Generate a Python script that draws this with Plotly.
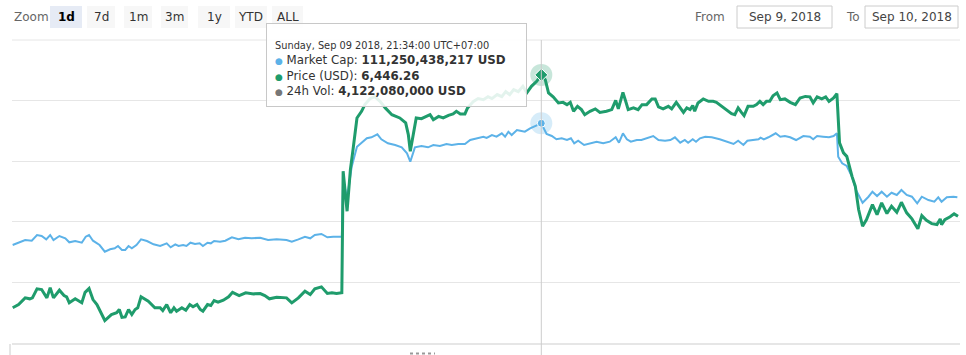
import pandas as pd
import plotly.graph_objects as go

# ---------------- data ----------------
base_time = "2018-09-09 08:10"   # UTC+07:00, start of the 1d window
window_minutes = 1440

price_min = [1, 10, 20, 27, 31, 38, 45, 53, 58, 63, 72, 79, 83, 87, 96, 106, 111, 117, 123, 129,
             141, 151, 159, 163, 167, 172, 177, 182, 187, 191, 196, 202, 207, 217, 225, 229, 235, 241, 246, 250,
             258, 264, 270, 275, 281, 286, 290, 297, 302, 307, 313, 321, 329, 335, 345, 355, 367, 377, 384, 391,
             402, 417, 425, 435, 445, 453, 460, 470, 479, 486, 493, 501, 503, 509, 514, 518, 524, 531, 536, 544,
             551, 559, 567, 577, 589, 598, 602, 605, 609, 614, 622, 630, 635, 640, 648, 655, 663, 670, 675, 681,
             688, 692, 701, 708, 716, 723, 729, 737, 744, 750, 756, 762, 769, 776, 782, 789, 797, 804, 810, 815,
             822, 830, 837, 843, 848, 853, 859, 865, 870, 878, 886, 893, 903, 911, 917, 921, 928, 933, 936, 944,
             951, 957, 964, 972, 977, 982, 989, 997, 1002, 1009, 1015, 1020, 1025, 1030, 1034, 1037, 1042, 1050, 1058, 1065,
             1070, 1078, 1086, 1093, 1098, 1103, 1108, 1112, 1118, 1126, 1131, 1136, 1141, 1146, 1151, 1156, 1162, 1167, 1174, 1182,
             1190, 1197, 1205, 1212, 1217, 1223, 1230, 1236, 1241, 1248, 1253, 1257, 1263, 1268, 1276, 1281, 1286, 1292, 1298, 1307,
             1314, 1321, 1329, 1336, 1344, 1351, 1359, 1367, 1376, 1382, 1389, 1397, 1405, 1410, 1412, 1417, 1425, 1431, 1437]
price_usd = [6254.0, 6256.7, 6262.2, 6261.4, 6262.2, 6269.7, 6269.1, 6262.2, 6270.5, 6262.2, 6268.5, 6264.1, 6263.1, 6258.1, 6261.4, 6258.1, 6266.8, 6269.9, 6260.8, 6256.7,
             6243.5, 6248.4, 6249.9, 6252.6, 6246.2, 6246.5, 6252.6, 6248.4, 6252.6, 6254.0, 6263.1, 6260.8, 6259.4, 6254.0, 6254.0, 6251.7, 6256.7, 6249.9, 6254.0, 6251.2,
             6254.0, 6252.0, 6256.7, 6254.8, 6256.7, 6252.6, 6251.2, 6256.7, 6255.9, 6260.0, 6258.6, 6260.3, 6263.1, 6266.8, 6264.1, 6266.4, 6265.5, 6265.8, 6264.1, 6261.4,
             6262.7, 6262.2, 6258.1, 6262.2, 6267.7, 6264.9, 6269.7, 6271.3, 6265.8, 6266.4, 6265.8, 6266.4, 6366.7, 6333.7, 6368.1, 6384.6, 6410.7, 6416.2, 6421.7, 6426.7,
             6428.3, 6424.4, 6419.0, 6413.4, 6410.7, 6406.6, 6397.0, 6383.2, 6397.0, 6410.7, 6410.1, 6412.0, 6413.4, 6409.3, 6412.0, 6410.7, 6412.9, 6414.0, 6416.2, 6414.0,
             6414.0, 6419.0, 6424.4, 6426.7, 6425.8, 6428.3, 6426.7, 6430.0, 6428.3, 6432.4, 6430.0, 6434.1, 6432.4, 6436.8, 6431.4, 6436.8, 6440.9, 6446.26, 6442.3, 6431.4,
             6428.1, 6423.1, 6423.6, 6421.7, 6423.6, 6416.2, 6420.3, 6417.6, 6413.4, 6416.2, 6418.2, 6415.3, 6416.2, 6417.6, 6425.2, 6418.2, 6431.8, 6423.1, 6417.6, 6419.0,
             6417.6, 6421.7, 6421.7, 6426.4, 6426.4, 6419.8, 6418.2, 6420.3, 6418.2, 6423.6, 6419.0, 6415.3, 6419.0, 6417.6, 6420.9, 6416.2, 6423.1, 6426.4, 6424.4, 6424.4,
             6423.6, 6420.3, 6417.6, 6414.3, 6413.4, 6419.0, 6415.3, 6412.6, 6420.3, 6420.3, 6421.7, 6424.4, 6421.7, 6424.4, 6424.4, 6429.1, 6431.4, 6425.8, 6426.4, 6423.6,
             6421.7, 6427.2, 6428.5, 6428.1, 6423.1, 6428.1, 6426.4, 6428.1, 6424.4, 6427.2, 6430.8, 6390.1, 6381.9, 6379.0, 6362.5, 6354.3, 6335.1, 6321.3, 6326.8, 6339.2,
             6330.9, 6340.6, 6331.8, 6337.8, 6332.8, 6341.1, 6332.4, 6327.4, 6319.2, 6330.1, 6326.2, 6323.5, 6322.7, 6327.4, 6322.7, 6326.8, 6329.1, 6331.5, 6329.5]

cap_min = [1, 10, 20, 30, 38, 45, 52, 58, 63, 72, 81, 87, 96, 106, 112, 117, 123, 133, 141, 149,
           156, 161, 167, 172, 177, 182, 189, 196, 205, 215, 225, 235, 241, 248, 253, 260, 265, 271, 278, 285,
           290, 297, 302, 307, 316, 324, 334, 344, 354, 364, 377, 389, 402, 417, 425, 435, 445, 453, 460, 470,
           479, 488, 501, 503, 509, 516, 524, 539, 546, 555, 561, 571, 582, 592, 600, 605, 612, 622, 632, 640,
           650, 660, 668, 678, 688, 696, 706, 716, 721, 729, 736, 744, 749, 754, 759, 767, 772, 779, 787, 794,
           804, 812, 820, 827, 835, 843, 849, 854, 860, 869, 878, 888, 898, 908, 917, 922, 928, 934, 940, 949,
           956, 964, 974, 982, 992, 1000, 1007, 1015, 1022, 1027, 1034, 1039, 1045, 1053, 1063, 1075, 1086, 1096, 1103, 1111,
           1117, 1126, 1134, 1137, 1142, 1149, 1156, 1160, 1167, 1174, 1182, 1191, 1202, 1212, 1217, 1223, 1232, 1241, 1248, 1253,
           1255, 1261, 1268, 1276, 1282, 1292, 1301, 1307, 1314, 1321, 1329, 1336, 1344, 1351, 1359, 1367, 1375, 1382, 1392, 1401,
           1407, 1412, 1420, 1430, 1436]
cap_bn = [107.936, 107.999, 108.072, 108.053, 108.208, 108.181, 108.091, 108.208, 108.072, 108.181, 108.119, 108.010, 108.045, 107.999, 108.162, 108.208, 108.053, 107.936, 107.754, 107.819,
          107.846, 107.909, 107.800, 107.800, 107.909, 107.846, 107.936, 108.091, 108.045, 107.955, 107.909, 107.982, 107.873, 107.955, 107.909, 107.936, 107.909, 107.999, 107.963, 107.982,
          107.909, 107.999, 107.982, 108.045, 108.026, 108.053, 108.146, 108.091, 108.135, 108.119, 108.135, 108.072, 108.091, 108.072, 108.026, 108.091, 108.162, 108.119, 108.208, 108.236,
          108.146, 108.162, 108.162, 109.706, 109.216, 110.068, 110.613, 110.842, 110.869, 110.950, 110.814, 110.705, 110.659, 110.596, 110.433, 110.204, 110.596, 110.632, 110.596, 110.659,
          110.632, 110.686, 110.659, 110.686, 110.686, 110.795, 110.842, 110.885, 110.850, 110.931, 110.885, 110.978, 110.885, 111.021, 110.931, 111.068, 111.048, 111.021, 111.114, 111.176,
          111.250438217, 110.959, 110.904, 110.814, 110.842, 110.795, 110.842, 110.705, 110.776, 110.659, 110.705, 110.749, 110.705, 110.749, 110.869, 110.722, 110.978, 110.814, 110.749, 110.795,
          110.795, 110.842, 110.904, 110.795, 110.776, 110.795, 110.869, 110.722, 110.795, 110.722, 110.814, 110.749, 110.842, 110.885, 110.869, 110.814, 110.749, 110.686, 110.776, 110.659,
          110.776, 110.795, 110.814, 110.858, 110.814, 110.869, 110.931, 110.978, 110.885, 110.904, 110.869, 110.795, 110.904, 110.885, 110.814, 110.904, 110.885, 110.869, 110.904, 110.978,
          110.341, 110.161, 110.087, 109.796, 109.434, 109.088, 109.251, 109.387, 109.270, 109.387, 109.251, 109.360, 109.298, 109.434, 109.298, 109.251, 109.072, 109.251, 109.161, 109.115,
          109.235, 109.115, 109.235, 109.251, 109.235]

hover_minute = 804
volume_24h = 4122080000
zoom_buttons = ["1d", "7d", "1m", "3m", "1y", "YTD", "ALL"]
selected_button = "1d"
date_from = "Sep 9, 2018"
date_to = "Sep 10, 2018"

# ---------------- styling ----------------
FONT = "DejaVu Sans"
BLUE = "#5cb2e8"
GREEN = "#1f9c6c"
GRID = "#e6e6e6"

base = pd.Timestamp(base_time)
price_t = base + pd.to_timedelta(price_min, unit="m")
cap_t = base + pd.to_timedelta(cap_min, unit="m")
hover_t = base + pd.Timedelta(minutes=hover_minute)
hp = price_usd[price_min.index(hover_minute)]
hc = cap_bn[cap_min.index(hover_minute)]

fig = go.Figure()
fig.add_trace(go.Scatter(x=cap_t, y=cap_bn, mode="lines", yaxis="y",
                         line=dict(color=BLUE, width=2), hoverinfo="skip"))
fig.add_trace(go.Scatter(x=price_t, y=price_usd, mode="lines", yaxis="y2",
                         line=dict(color=GREEN, width=3), hoverinfo="skip"))
# hover halos and markers
fig.add_trace(go.Scatter(x=[hover_t], y=[hc], yaxis="y", mode="markers",
                         marker=dict(size=22, color="rgba(92,178,232,0.25)"), hoverinfo="skip"))
fig.add_trace(go.Scatter(x=[hover_t], y=[hc], yaxis="y", mode="markers",
                         marker=dict(size=8, color=BLUE, line=dict(width=1, color="#ffffff")), hoverinfo="skip"))
fig.add_trace(go.Scatter(x=[hover_t], y=[hp], yaxis="y2", mode="markers",
                         marker=dict(size=22, color="rgba(31,156,108,0.25)"), hoverinfo="skip"))
fig.add_trace(go.Scatter(x=[hover_t], y=[hp], yaxis="y2", mode="markers",
                         marker=dict(size=10, symbol="diamond", color=GREEN, line=dict(width=1, color="#ffffff")),
                         hoverinfo="skip"))

W, H = 966, 355
L, R, T, B = 12, 6, 40, 12
PW, PH = W - L - R, H - T - B


def px(x):
    return (x - L) / PW


def py(y):
    return (H - B - y) / PH


shapes = []
annotations = []

# top grid line of the plot
shapes.append(dict(type="line", xref="paper", yref="paper", x0=0, x1=1, y0=1, y1=1,
                   line=dict(color=GRID, width=1), layer="below"))
# crosshair
shapes.append(dict(type="line", xref="x", yref="paper", x0=hover_t, x1=hover_t, y0=1, y1=py(355),
                   line=dict(color="#cccccc", width=1)))
# navigator hints below the plot
shapes.append(dict(type="line", xref="paper", yref="paper", x0=px(10), x1=px(10), y0=py(344), y1=py(356),
                   line=dict(color="#cccccc", width=1)))
shapes.append(dict(type="line", xref="paper", yref="paper", x0=px(410), x1=px(435), y0=py(353.5), y1=py(353.5),
                   line=dict(color="#999999", width=2, dash="dot")))

# range selector
annotations.append(dict(xref="paper", yref="paper", x=px(12), y=py(17), xanchor="left", yanchor="middle",
                        text="Zoom", showarrow=False, font=dict(family=FONT, size=12, color="#666666")))
btn_x = [(50, 82), (87, 115), (124, 152), (161, 188), (198, 230), (235, 267), (272, 303)]
for lab, (a, b) in zip(zoom_buttons, btn_x):
    sel = lab == selected_button
    shapes.append(dict(type="rect", xref="paper", yref="paper", x0=px(a), x1=px(b), y0=py(28), y1=py(6),
                       fillcolor="#e6ebf5" if sel else "#f7f7f7", line=dict(width=0), layer="below"))
    annotations.append(dict(xref="paper", yref="paper", x=px((a + b) / 2), y=py(17), xanchor="center",
                            yanchor="middle", showarrow=False,
                            text=f"<b>{lab}</b>" if sel else lab,
                            font=dict(family=FONT, size=12, color="#000000" if sel else "#333333")))

# date inputs
annotations.append(dict(xref="paper", yref="paper", x=px(727), y=py(17), xanchor="right", yanchor="middle",
                        text="From", showarrow=False, font=dict(family=FONT, size=12, color="#666666")))
annotations.append(dict(xref="paper", yref="paper", x=px(862), y=py(17), xanchor="right", yanchor="middle",
                        text="To", showarrow=False, font=dict(family=FONT, size=12, color="#666666")))
for txt, (a, b) in [(date_from, (737, 832)), (date_to, (865, 958))]:
    shapes.append(dict(type="rect", xref="paper", yref="paper", x0=px(a), x1=px(b), y0=py(28), y1=py(6),
                       fillcolor="#ffffff", line=dict(width=1, color="#cccccc")))
    annotations.append(dict(xref="paper", yref="paper", x=px((a + b) / 2), y=py(17), xanchor="center",
                            yanchor="middle", showarrow=False, text=txt,
                            font=dict(family=FONT, size=12, color="#444444")))

# tooltip
header = hover_t.strftime("%A, %b %d %Y, %H:%M:%S") + " UTC+07:00"
bullet = "<span style='color:{c};font-size:9px'>●</span>"
tip = (f"<span style='font-size:9.8px'>{header}</span><br>"
       f"{bullet.format(c=BLUE)} Market Cap: <b>{hc * 1e9:,.0f} USD</b><br>"
       f"{bullet.format(c=GREEN)} Price (USD): <b>{hp:,.2f}</b><br>"
       f"{bullet.format(c='#777777')} 24h Vol: <b>{volume_24h:,} USD</b>")
annotations.append(dict(xref="x", yref="y2", x=hover_t, y=hp, xanchor="right", yanchor="middle",
                        xshift=-14, yshift=10, showarrow=False, text=tip, align="left", valign="bottom",
                        width=243, height=66, borderpad=8, borderwidth=1, bordercolor="#c8c8c8",
                        bgcolor="rgba(255,255,255,0.88)",
                        font=dict(family=FONT, size=11.8, color="#333333")))

price_lo, price_hi = 6225.0, 6475.0
cap_lo, cap_hi = 105.268, 113.518

fig.update_layout(
    width=W, height=H,
    margin=dict(l=L, r=R, t=T, b=B),
    paper_bgcolor="#ffffff", plot_bgcolor="#ffffff",
    showlegend=False,
    xaxis=dict(type="date", range=[base, base + pd.Timedelta(minutes=window_minutes)],
               showgrid=False, showticklabels=False, ticks="", zeroline=False,
               showline=True, linecolor=GRID, linewidth=2),
    yaxis=dict(range=[cap_lo, cap_hi], showgrid=False, showticklabels=False, zeroline=False, ticks=""),
    yaxis2=dict(range=[price_lo - 0.05, price_hi + 0.05], overlaying="y", side="left",
                tickvals=[6225, 6275, 6325, 6375, 6425, 6475], showgrid=True, gridcolor=GRID, gridwidth=1,
                showticklabels=False, zeroline=False, ticks=""),
    shapes=shapes,
    annotations=annotations,
    font=dict(family=FONT),
)

fig.write_html("out.html")
